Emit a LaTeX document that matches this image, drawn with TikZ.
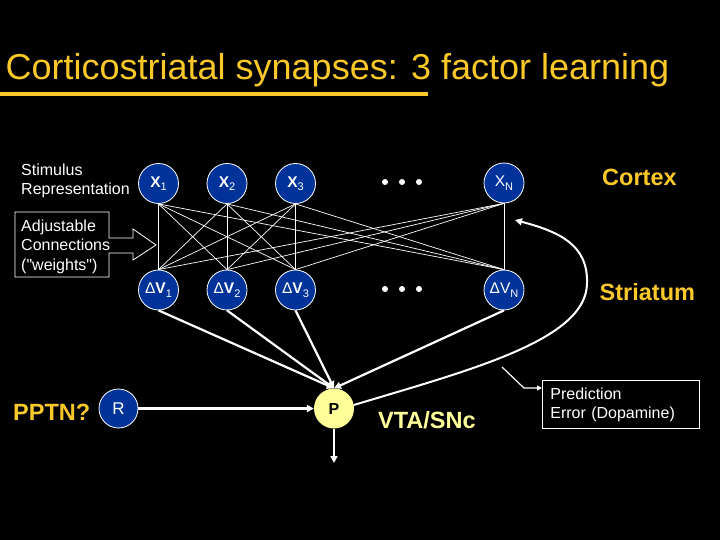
\documentclass[tikz,border=0pt]{standalone}
\usepackage{fontspec}
\setmainfont{Liberation Sans}
\usetikzlibrary{arrows.meta}
\definecolor{nblue}{RGB}{0,51,153}
\definecolor{tyellow}{RGB}{250,200,40}
\definecolor{lyellow}{RGB}{255,255,153}
\newcommand{\sbs}[1]{\raisebox{-3.5pt}{\fontsize{11}{11}\selectfont\mdseries #1}}
\begin{document}
\begin{tikzpicture}[x=1pt,y=-1pt,
  unit/.style={circle, draw=white, line width=0.8pt, fill=nblue, minimum size=40pt,
    inner sep=0pt, text=white, font=\fontsize{15.5}{15.5}\selectfont},
  dotmark/.style={circle, fill=white, minimum size=6pt, inner sep=0pt},
  weight/.style={white, line width=0.7pt},
  feed/.style={white, line width=2.2pt, -{Triangle[length=7pt,width=7pt]}},
  txtlabel/.style={inner sep=0pt, text=white, font=\fontsize{16}{19.5}\selectfont, align=left},
  region/.style={inner sep=0pt, text=tyellow, font=\fontsize{23.5}{26}\selectfont\bfseries},
]
\fill[black] (0,0) rectangle (720,540);
\useasboundingbox (0,0) rectangle (720,540);

% title
\node[anchor=base west, inner sep=0pt, text=tyellow, font=\fontsize{36}{40}\selectfont] (title) at (5.5,80)
  {Corticostriatal synapses: 3 factor learning};
\draw[tyellow, line width=4pt] (0,94) -- (428,94);

% units
\node[unit, font=\fontsize{15.5}{15.5}\selectfont\bfseries] (x1) at (158.5,183.5) {X\sbs{1}};
\node[unit, font=\fontsize{15.5}{15.5}\selectfont\bfseries] (x2) at (227,183.5) {X\sbs{2}};
\node[unit, font=\fontsize{15.5}{15.5}\selectfont\bfseries] (x3) at (295.5,183.5) {X\sbs{3}};
\node[unit] (xn) at (504,183) {X\sbs{N}};
\node[unit] (v1) at (158.5,290) {Δ\textbf{V}\sbs{1}};
\node[unit] (v2) at (227,290) {Δ\textbf{V}\sbs{2}};
\node[unit] (v3) at (295.5,290) {Δ\textbf{V}\sbs{3}};
\node[unit] (vn) at (504,290) {ΔV\sbs{N}};

\node[dotmark] (da1) at (385,182) {};
\node[dotmark] (da2) at (402,182) {};
\node[dotmark] (da3) at (419,182) {};
\node[dotmark] (db1) at (385,289) {};
\node[dotmark] (db2) at (402,289) {};
\node[dotmark] (db3) at (419,289) {};

\node[unit, minimum size=39pt, font=\fontsize{17}{17}\selectfont] (r) at (118.5,408.5) {R};
\node[circle, fill=lyellow, minimum size=40pt, inner sep=0pt, text=black,
  font=\fontsize{16}{16}\selectfont\bfseries] (p) at (334,408.5) {P};

% weights
\foreach \a in {x1,x2,x3,xn}{
  \foreach \b in {v1,v2,v3,vn}{
    \draw[weight] (\a.south) -- (\b.north);
  }
}

% striatum to P
\foreach \a in {v1,v2,v3,vn}{
  \draw[feed] (\a.south) -- (p.north);
}
\draw[feed] (r) -- (p);
\coordinate (pd) at (334,463);
\draw[feed, line width=1.6pt] (p) -- (pd);

% dopamine feedback
\coordinate (fbend) at (515,220);
\draw[feed, line width=2pt] (p.10) .. controls (470,370) and (587,340) .. (587,283)
  .. controls (588,245) and (560,232) .. (fbend);

% text labels
\node[txtlabel, anchor=base west] (stim) at (21,195) {Stimulus\\Representation};
\node[txtlabel, anchor=base west] (adj) at (21,270) {Adjustable\\Connections\\(\textquotedbl weights\textquotedbl)};
\draw[white, line width=0.8pt] (109,212) -- (109,238) -- (133,238) -- (133,229) -- (156,245)
  -- (133,260) -- (133,253) -- (109,253) -- (109,277) -- (15,277) -- (15,212) -- cycle;

\node[region, anchor=base west] (cortex) at (602,186) {Cortex};
\node[region, anchor=base west] (striatum) at (599.5,300) {Striatum};
\node[region, anchor=base west] (pptn) at (13,420) {PPTN?};
\node[region, anchor=base west, text=lyellow] (vta) at (378,428) {VTA/SNc};

\node[draw=white, line width=0.8pt, text=white, font=\fontsize{16}{19}\selectfont, align=left,
  text width=141pt, inner xsep=8pt, minimum height=48pt, anchor=north west] (pe) at (542,380)
  {Prediction\\Error (Dopamine)};
\coordinate (c0) at (502,367);
\coordinate (c1) at (524,388);
\draw[white, line width=1.2pt, -{Triangle[length=5pt,width=5pt]}] (c0) -- (c1) -- (pe.west |- c1);
\end{tikzpicture}
\end{document}
